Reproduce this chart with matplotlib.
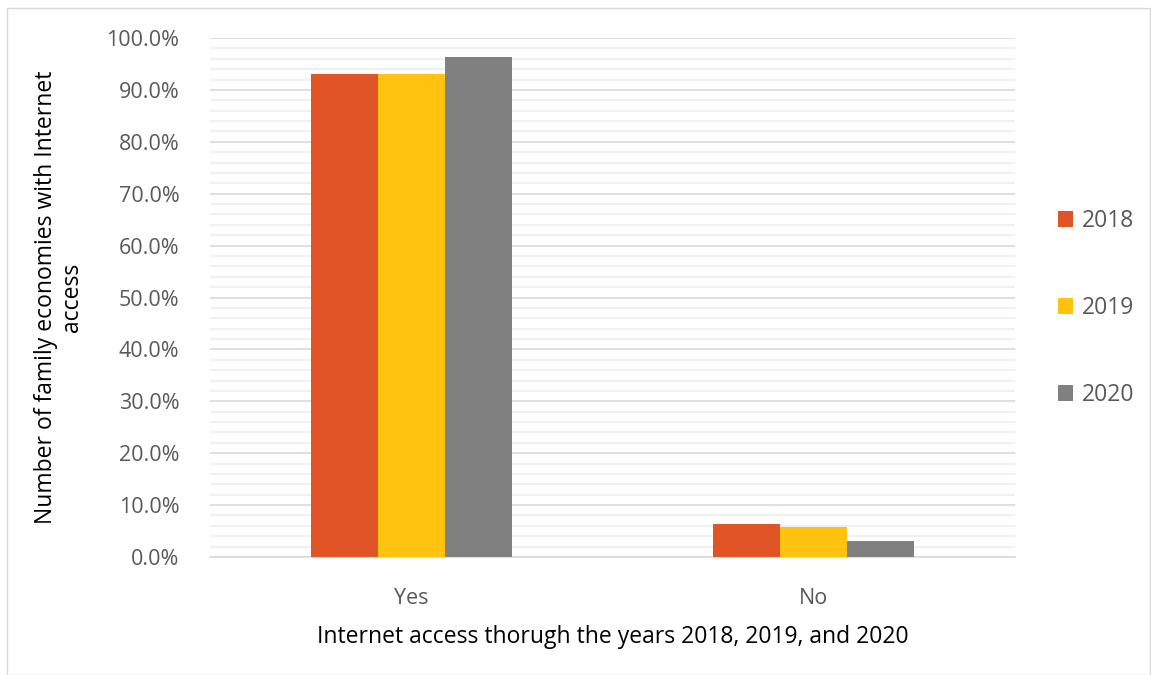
import matplotlib.pyplot as plt
import numpy as np
from matplotlib.patches import Rectangle
from matplotlib.ticker import MultipleLocator, FuncFormatter

plt.rcParams['font.family'] = ['Open Sans', 'DejaVu Sans']

categories = ['Yes', 'No']
years = ['2018', '2019', '2020']
values = {
    '2018': [93.1, 6.4],
    '2019': [93.1, 5.8],
    '2020': [96.3, 3.1],
}
colors = ['#E05426', '#FFC20E', '#808080']
text_col = '#595959'

fig = plt.figure(figsize=(11.51, 6.75), dpi=100)
ax = fig.add_axes([210/1151, 1 - 557/675, 805/1151, 519/675])

x = np.arange(len(categories))
w = 1/6
for i, (yr, c) in enumerate(zip(years, colors)):
    ax.bar(x + (i - 1) * w, values[yr], width=w, color=c, label=yr, zorder=3)

ax.set_xlim(-0.5, 1.5)
ax.set_ylim(0, 100)
ax.yaxis.set_major_locator(MultipleLocator(10))
ax.yaxis.set_minor_locator(MultipleLocator(2))
ax.yaxis.set_major_formatter(FuncFormatter(lambda v, p: f'{v:.1f}%'))
ax.grid(axis='y', which='major', color='#D9D9D9', lw=1.2, zorder=0)
ax.grid(axis='y', which='minor', color='#EDEDED', lw=1.2, zorder=0)
ax.set_xticks(x)
ax.set_xticklabels(categories)
ax.tick_params(axis='both', which='both', length=0, colors=text_col, labelsize=15.5)
ax.tick_params(axis='x', pad=22)
ax.tick_params(axis='y', pad=22)
for s in ['top', 'right', 'left']:
    ax.spines[s].set_visible(False)
ax.spines['bottom'].set_color('#D9D9D9')
ax.spines['bottom'].set_linewidth(1.2)

ax.set_ylabel('Number of family economies with Internet\naccess', fontsize=16.5,
              color='black', labelpad=16, linespacing=1.15)
ax.set_xlabel('Internet access thorugh the years 2018, 2019, and 2020', fontsize=16.5,
              color='black', labelpad=12)

fig.legend(loc='center left', bbox_to_anchor=(1037/1151, 1 - 308/675), frameon=False,
           fontsize=16.5, labelcolor=text_col, handlelength=0.65, handleheight=0.65,
           handletextpad=0.4, labelspacing=2.75)

fig.patches.append(Rectangle((7/1151, 0.0), 1143/1151, 1 - 8/675, transform=fig.transFigure,
                             fill=False, edgecolor='#D9D9D9', lw=1))

fig.savefig('out.png', dpi=100)
